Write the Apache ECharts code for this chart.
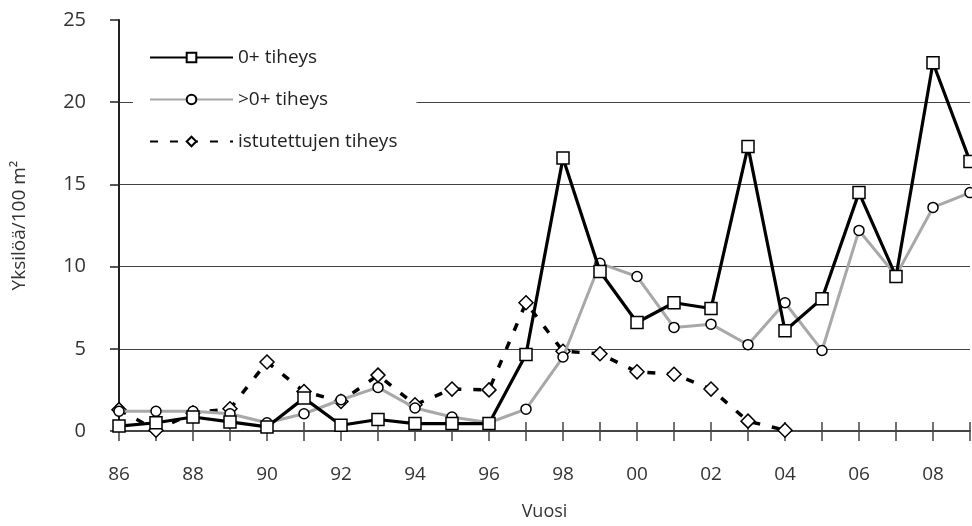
<!DOCTYPE html>
<html>
<head>
<meta charset="utf-8">
<script src="https://cdn.jsdelivr.net/npm/echarts@6/dist/echarts.min.js"></script>
<style>html,body{margin:0;padding:0;background:#fff}#c{width:972px;height:526px}</style>
</head>
<body>
<div id="c"></div>
<script>
const years = ['86','87','88','89','90','91','92','93','94','95','96','97','98','99','00','01','02','03','04','05','06','07','08','09'];
const yTicks = [0, 5, 10, 15, 20, 25];
const seriesNames = ['0+ tiheys', '>0+ tiheys', 'istutettujen tiheys'];
const density0 = [0.3, 0.5, 0.85, 0.55, 0.25, 2.0, 0.35, 0.7, 0.45, 0.45, 0.45, 4.65, 16.6, 9.7, 6.6, 7.8, 7.45, 17.3, 6.1, 8.05, 14.5, 9.4, 22.4, 16.4];
const densityOlder = [1.2, 1.2, 1.2, 1.05, 0.5, 1.05, 1.9, 2.65, 1.4, 0.85, 0.5, 1.33, 4.5, 10.2, 9.4, 6.3, 6.5, 5.25, 7.8, 4.9, 12.2, 9.45, 13.6, 14.5];
const stocked = [1.3, 0.05, 1.1, 1.35, 4.2, 2.4, 1.8, 3.4, 1.6, 2.55, 2.5, 7.8, 4.85, 4.7, 3.6, 3.45, 2.55, 0.6, 0.05, null, null, null, null, null];

const font = 'Open Sans';
const chart = echarts.init(document.getElementById('c'));
chart.setOption({
  animation: false,
  textStyle: { fontFamily: font },
  grid: { left: 119, right: 2, top: 20, bottom: 94 },
  legend: {
    orient: 'vertical',
    left: 133,
    top: 42,
    padding: [6, 19, 10, 16],
    backgroundColor: '#fff',
    itemWidth: 83,
    itemHeight: 12,
    itemGap: 23,
    textStyle: { fontFamily: font, fontSize: 19, color: '#222' },
    data: seriesNames
  },
  xAxis: [{
    type: 'category',
    data: years,
    boundaryGap: false,
    name: 'Vuosi',
    nameLocation: 'middle',
    nameGap: 72,
    nameTextStyle: { fontFamily: font, fontSize: 18, color: '#333' },
    axisLine: { lineStyle: { color: '#444', width: 2 } },
    axisTick: { show: true, interval: 0, length: 10, lineStyle: { color: '#444', width: 1.5 } },
    axisLabel: { interval: 1, margin: 34, fontFamily: font, fontSize: 19, color: '#333' },
    splitLine: { show: false }
  }, {
    type: 'category',
    data: years,
    boundaryGap: false,
    position: 'bottom',
    axisLine: { show: false },
    axisTick: { show: true, inside: true, interval: 0, length: 9, lineStyle: { color: '#444', width: 1.5 } },
    axisLabel: { show: false },
    splitLine: { show: false }
  }],
  yAxis: {
    type: 'value',
    min: yTicks[0],
    max: yTicks[yTicks.length - 1],
    interval: 5,
    name: 'Yksilöä/100 m²',
    nameLocation: 'middle',
    nameGap: 90,
    nameTextStyle: { fontFamily: font, fontSize: 19, color: '#333' },
    axisLine: { show: true, lineStyle: { color: '#222', width: 2 } },
    axisTick: { show: true, length: 9, lineStyle: { color: '#222', width: 1.5 } },
    axisLabel: { margin: 33, fontFamily: font, fontSize: 20, color: '#333' },
    splitLine: { show: true, lineStyle: { color: ['rgba(0,0,0,0)', '#444', '#444', '#444', '#444', 'rgba(0,0,0,0)'], width: 1.2 } }
  },
  series: [{
    name: seriesNames[0],
    type: 'line',
    data: density0,
    z: 5,
    symbol: 'rect',
    symbolSize: 12,
    showAllSymbol: true,
    lineStyle: { color: '#000', width: 3.2 },
    itemStyle: { color: '#fff', borderColor: '#000', borderWidth: 1.5 }
  }, {
    name: seriesNames[1],
    type: 'line',
    data: densityOlder,
    z: 4,
    symbol: 'circle',
    symbolSize: 10,
    showAllSymbol: true,
    lineStyle: { color: '#a8a8a8', width: 3 },
    itemStyle: { color: '#fff', borderColor: '#000', borderWidth: 1.5 }
  }, {
    name: seriesNames[2],
    type: 'line',
    data: stocked,
    z: 3,
    symbol: 'diamond',
    symbolSize: 14,
    showAllSymbol: true,
    lineStyle: { color: '#000', width: 3.5, type: [8, 12] },
    itemStyle: { color: '#fff', borderColor: '#000', borderWidth: 1.5 }
  }]
});
</script>
</body>
</html>
